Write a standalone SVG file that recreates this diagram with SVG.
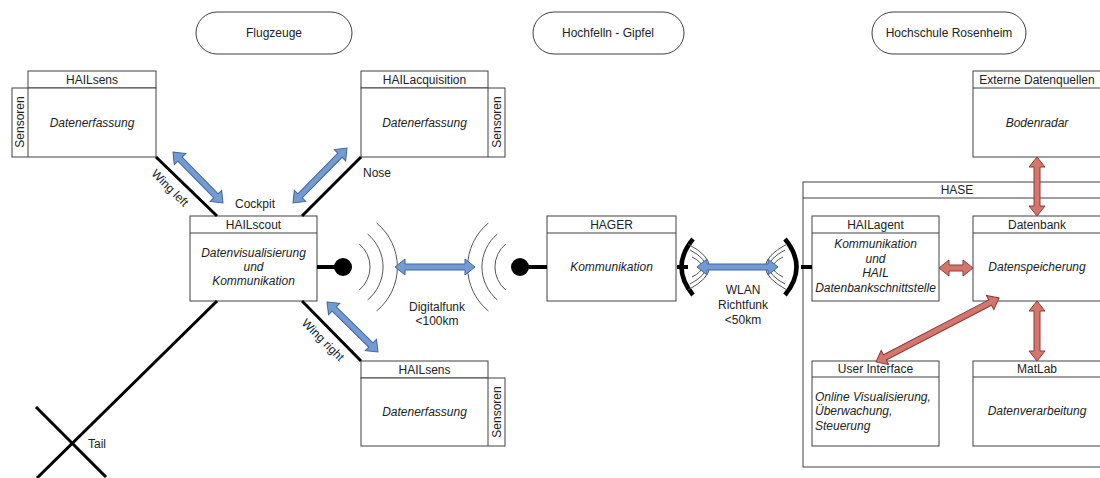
<svg xmlns="http://www.w3.org/2000/svg" width="1100" height="478" viewBox="0 0 1100 478">
<style>
text{font-family:"Liberation Sans",Arial,sans-serif;font-size:12px;fill:#222}
.c{text-anchor:middle}
.i{font-style:italic}
.box{fill:#fff;stroke:#404040;stroke-width:1}
.frame{fill:none;stroke:#404040;stroke-width:1}
.pill{fill:#fff;stroke:#404040;stroke-width:1}
.thick{stroke:#000;stroke-width:3;fill:none}
.wave{stroke:#555;stroke-width:1;fill:none}
.ba{fill:#739bd3;stroke:#41649a;stroke-width:1}
.ra{fill:#d3766d;stroke:#8b3b35;stroke-width:1}
</style>
<rect width="1100" height="478" fill="#fff"/>

<g id="lanes">
<rect class="pill" x="196" y="12" width="156" height="42" rx="21"/>
<text class="c" x="274" y="37">Flugzeuge</text>
<rect class="pill" x="533" y="12" width="151" height="42" rx="21"/>
<text class="c" x="608" y="37">Hochfelln - Gipfel</text>
<rect class="pill" x="872" y="12" width="154" height="42" rx="21"/>
<text class="c" x="949" y="37">Hochschule Rosenheim</text>
</g>

<g id="hailsens-left">
<rect class="box" x="28" y="71" width="128" height="17"/>
<rect class="box" x="12" y="88" width="144" height="69"/>
<line x1="28" y1="88" x2="28" y2="157" stroke="#404040"/>
<text class="c" x="92" y="84">HAILsens</text>
<text class="c i" x="92" y="127">Datenerfassung</text>
<text class="c" x="20" y="126" transform="rotate(-90 20 122)">Sensoren</text>
</g>

<g id="hailacquisition">
<rect class="box" x="361" y="71" width="127" height="17"/>
<rect class="box" x="361" y="88" width="144" height="69"/>
<line x1="488" y1="88" x2="488" y2="157" stroke="#404040"/>
<text class="c" x="424.5" y="84">HAILacquisition</text>
<text class="c i" x="424.5" y="127">Datenerfassung</text>
<text class="c" x="496.5" y="126" transform="rotate(-90 496.5 122)">Sensoren</text>
</g>

<g id="hailscout">
<rect class="box" x="190" y="216" width="127" height="85"/>
<line x1="190" y1="233" x2="317" y2="233" stroke="#404040"/>
<text class="c" x="253.5" y="229">HAILscout</text>
<text class="c i" x="253.5" y="257">Datenvisualisierung</text>
<text class="c i" x="253.5" y="271">und</text>
<text class="c i" x="253.5" y="285">Kommunikation</text>
</g>

<g id="hailsens-right">
<rect class="box" x="361" y="361" width="127" height="17"/>
<rect class="box" x="361" y="378" width="144" height="68"/>
<line x1="488" y1="378" x2="488" y2="446" stroke="#404040"/>
<text class="c" x="424.5" y="374">HAILsens</text>
<text class="c i" x="424.5" y="416">Datenerfassung</text>
<text class="c" x="496.5" y="416" transform="rotate(-90 496.5 412)">Sensoren</text>
</g>

<g id="hager">
<rect class="box" x="547" y="216" width="129" height="85"/>
<line x1="547" y1="233" x2="676" y2="233" stroke="#404040"/>
<text class="c" x="611.5" y="229">HAGER</text>
<text class="c i" x="611.5" y="271">Kommunikation</text>
</g>

<g id="hase">
<rect class="frame" x="803" y="182" width="300" height="285"/>
<line x1="803" y1="198" x2="1100" y2="198" stroke="#404040"/>
<text class="c" x="957" y="194">HASE</text>
</g>

<g id="externe">
<rect class="box" x="973" y="71" width="130" height="86"/>
<line x1="973" y1="88" x2="1100" y2="88" stroke="#404040"/>
<text class="c" x="1037" y="84">Externe Datenquellen</text>
<text class="c i" x="1037" y="127">Bodenradar</text>
</g>

<g id="hailagent">
<rect class="box" x="812" y="216" width="127" height="85"/>
<line x1="812" y1="233" x2="939" y2="233" stroke="#404040"/>
<text class="c" x="875.5" y="229">HAILagent</text>
<text class="c i" x="875.5" y="248">Kommunikation</text>
<text class="c i" x="875.5" y="263">und</text>
<text class="c i" x="875.5" y="277">HAIL</text>
<text class="c i" x="875.5" y="292">Datenbankschnittstelle</text>
</g>

<g id="datenbank">
<rect class="box" x="973" y="216" width="130" height="85"/>
<line x1="973" y1="233" x2="1100" y2="233" stroke="#404040"/>
<text class="c" x="1037" y="229">Datenbank</text>
<text class="c i" x="1037" y="271">Datenspeicherung</text>
</g>

<g id="userinterface">
<rect class="box" x="812" y="361" width="127" height="85"/>
<line x1="812" y1="377" x2="939" y2="377" stroke="#404040"/>
<text class="c" x="875.5" y="373">User Interface</text>
<text class="i" x="815" y="401">Online Visualisierung,</text>
<text class="i" x="815" y="415">Überwachung,</text>
<text class="i" x="815" y="430">Steuerung</text>
</g>

<g id="matlab">
<rect class="box" x="973" y="361" width="130" height="85"/>
<line x1="973" y1="377" x2="1100" y2="377" stroke="#404040"/>
<text class="c" x="1037" y="373">MatLab</text>
<text class="c i" x="1037" y="415">Datenverarbeitung</text>
</g>

<g id="connectors">
<!-- airframe -->
<line class="thick" x1="156" y1="157" x2="217" y2="216"/>
<line class="thick" x1="361" y1="157" x2="302" y2="216"/>
<line class="thick" x1="302" y1="301" x2="361" y2="361"/>
<line class="thick" x1="217" y1="301" x2="37" y2="478"/>
<line class="thick" x1="36" y1="407" x2="106" y2="477"/>
<text x="170" y="192" class="c" transform="rotate(45 170 188)">Wing left</text>
<text x="323" y="344" class="c" transform="rotate(45 323 340)">Wing right</text>
<text x="255" y="208" class="c">Cockpit</text>
<text x="377" y="177" class="c">Nose</text>
<text x="88" y="448">Tail</text>
<!-- digitalfunk -->
<line x1="317" y1="267" x2="343" y2="267" stroke="#000" stroke-width="4"/>
<circle cx="343" cy="267" r="9" fill="#000"/>
<path class="wave" d="M359.3,244 A30,30 0 0 1 359.3,290"/>
<path class="wave" d="M367.6,234 A43,43 0 0 1 367.6,300"/>
<path class="wave" d="M376.6,223 A57,57 0 0 1 376.6,311"/>
<line x1="520" y1="267" x2="547" y2="267" stroke="#000" stroke-width="4"/>
<circle cx="520" cy="267" r="9" fill="#000"/>
<path class="wave" d="M505.7,244 A30,30 0 0 0 505.7,290"/>
<path class="wave" d="M497.4,234 A43,43 0 0 0 497.4,300"/>
<path class="wave" d="M488.4,223 A57,57 0 0 0 488.4,311"/>
<text class="c" x="437" y="311">Digitalfunk</text>
<text class="c" x="437" y="325">&lt;100km</text>
<!-- WLAN -->
<path d="M693,239 Q670,267 693,295" stroke="#000" stroke-width="4.5" fill="none"/>
<line x1="677" y1="267" x2="688" y2="267" stroke="#000" stroke-width="4"/>
<path d="M785,239 Q808,267 785,295" stroke="#000" stroke-width="4.5" fill="none"/>
<line x1="801" y1="267" x2="812" y2="267" stroke="#000" stroke-width="4"/>
<path class="wave" d="M692,257 Q712,267 692,277"/>
<path class="wave" d="M690,250 Q722,267 690,284"/>
<path class="wave" d="M688,244 Q731,267 688,290"/>
<path class="wave" d="M783,257 Q763,267 783,277"/>
<path class="wave" d="M785,250 Q753,267 785,284"/>
<path class="wave" d="M787,244 Q744,267 787,290"/>
<text class="c" x="743" y="294">WLAN</text>
<text class="c" x="743" y="309">Richtfunk</text>
<text class="c" x="743" y="324">&lt;50km</text>
<!-- blue arrows -->
<path class="ba" transform="translate(173,152) rotate(45.6)" d="M0,0 L10,-8 L10,-3 L61.4,-3 L61.4,-8 L71.4,0 L61.4,8 L61.4,3 L10,3 L10,8 Z"/>
<path class="ba" transform="translate(293,203) rotate(-45.5)" d="M0,0 L10,-8 L10,-3 L67,-3 L67,-8 L77,0 L67,8 L67,3 L10,3 L10,8 Z"/>
<path class="ba" transform="translate(327,302) rotate(44.4)" d="M0,0 L10,-8 L10,-3 L61.4,-3 L61.4,-8 L71.4,0 L61.4,8 L61.4,3 L10,3 L10,8 Z"/>
<path class="ba" transform="translate(395,267)" d="M0,0 L10,-8 L10,-3 L70,-3 L70,-8 L80,0 L70,8 L70,3 L10,3 L10,8 Z"/>
<path class="ba" transform="translate(697,267)" d="M0,0 L10,-8 L10,-3 L71,-3 L71,-8 L81,0 L71,8 L71,3 L10,3 L10,8 Z"/>
<!-- red arrows -->
<path class="ra" transform="translate(1037,157) rotate(90)" d="M0,0 L10,-8 L10,-3 L49,-3 L49,-8 L59,0 L49,8 L49,3 L10,3 L10,8 Z"/>
<path class="ra" transform="translate(1037,301) rotate(90)" d="M0,0 L10,-8 L10,-3 L50,-3 L50,-8 L60,0 L50,8 L50,3 L10,3 L10,8 Z"/>
<path class="ra" transform="translate(939,268)" d="M0,0 L10,-8 L10,-3 L24,-3 L24,-8 L34,0 L24,8 L24,3 L10,3 L10,8 Z"/>
<path class="ra" transform="translate(876,362) rotate(-27.5)" d="M0,0 L10,-8 L10,-3 L128.7,-3 L128.7,-8 L138.7,0 L128.7,8 L128.7,3 L10,3 L10,8 Z"/>
</g>
</svg>
